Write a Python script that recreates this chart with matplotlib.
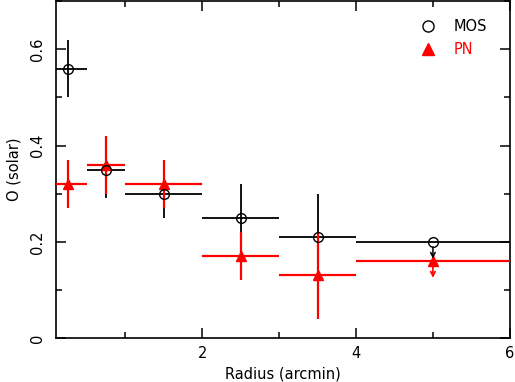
import numpy as np
import matplotlib
matplotlib.use("Agg")
import matplotlib.pyplot as plt
from matplotlib.lines import Line2D
from matplotlib.ticker import MultipleLocator

# radial bins (arcmin)
radius = np.array([0.25, 0.75, 1.5, 2.5, 3.5, 5.0])
radius_lo = np.array([0.0, 0.5, 1.0, 2.0, 3.0, 4.0])
radius_hi = np.array([0.5, 1.0, 2.0, 3.0, 4.0, 6.0])

# MOS oxygen abundance (last bin is an upper limit)
mos = np.array([0.56, 0.35, 0.30, 0.25, 0.21, 0.20])
mos_lo = np.array([0.50, 0.29, 0.25, 0.20, 0.14, 0.20])
mos_hi = np.array([0.62, 0.41, 0.35, 0.32, 0.30, 0.20])
mos_limit_tip = 0.165

# PN oxygen abundance (last bin is an upper limit)
pn = np.array([0.32, 0.36, 0.32, 0.17, 0.13, 0.16])
pn_lo = np.array([0.27, 0.30, 0.27, 0.12, 0.04, 0.16])
pn_hi = np.array([0.37, 0.42, 0.37, 0.22, 0.22, 0.16])
pn_limit_tip = 0.125

plt.rcParams["font.family"] = ["DejaVu Sans"]
plt.rcParams["font.size"] = 10.5

fig = plt.figure(figsize=(5.15, 3.82), dpi=100)
ax = fig.add_axes([0.1087, 0.1152, 0.8813, 0.8818])

xerr = [radius - radius_lo, radius_hi - radius]

ax.errorbar(radius, mos, xerr=xerr, yerr=[mos - mos_lo, mos_hi - mos],
            fmt="none", ecolor="black", elinewidth=1.3, capsize=0, zorder=2)
ax.errorbar(radius, pn, xerr=xerr, yerr=[pn - pn_lo, pn_hi - pn],
            fmt="none", ecolor="red", elinewidth=1.6, capsize=0, zorder=3)
ax.plot(radius, pn, "^", color="red", markersize=7, zorder=4, linestyle="none")
ax.plot(radius, mos, "o", mfc="none", mec="black", mew=1.0, markersize=7,
        zorder=5, linestyle="none")

# upper limit arrows for the outermost bin
ax.annotate("", xy=(radius[-1], mos_limit_tip), xytext=(radius[-1], mos[-1]),
            arrowprops=dict(arrowstyle="->", color="black", lw=1.1,
                            shrinkA=3.8, shrinkB=0, mutation_scale=8), zorder=6)
ax.annotate("", xy=(radius[-1], pn_limit_tip), xytext=(radius[-1], pn[-1]),
            arrowprops=dict(arrowstyle="->", color="red", lw=1.2,
                            shrinkA=0, shrinkB=0, mutation_scale=8), zorder=6)

ax.set_xlim(0.1, 6)
ax.set_ylim(0, 0.7)
ax.xaxis.set_minor_locator(MultipleLocator(1))
ax.yaxis.set_minor_locator(MultipleLocator(0.1))
ax.set_xticks([2, 4, 6])
ax.set_xticklabels(["2", "4", "6"])
ax.set_yticks([0, 0.2, 0.4, 0.6])
ax.set_yticklabels(["0", "0.2", "0.4", "0.6"])

ax.tick_params(which="both", direction="in", top=True, right=True, width=1.1)
ax.tick_params(which="major", length=7)
ax.tick_params(which="minor", length=4)
ax.tick_params(axis="x", pad=6)
ax.tick_params(axis="y", pad=8, labelrotation=90)
for lbl in ax.get_yticklabels():
    lbl.set_va("center")
for sp in ax.spines.values():
    sp.set_linewidth(1.2)

ax.set_xlabel("Radius (arcmin)", labelpad=4)
ax.set_ylabel("O (solar)", labelpad=6)

handles = [Line2D([], [], marker="o", mfc="none", mec="black", mew=1.0,
                  markersize=8, linestyle="none"),
           Line2D([], [], marker="^", color="red", markersize=8,
                  linestyle="none")]
ax.legend(handles, ["MOS", "PN"], loc="upper right", frameon=False,
          labelcolor=["black", "red"], handletextpad=1.2, labelspacing=0.55,
          bbox_to_anchor=(0.978, 0.985), handlelength=1.0)

fig.savefig("out.png", dpi=100)
